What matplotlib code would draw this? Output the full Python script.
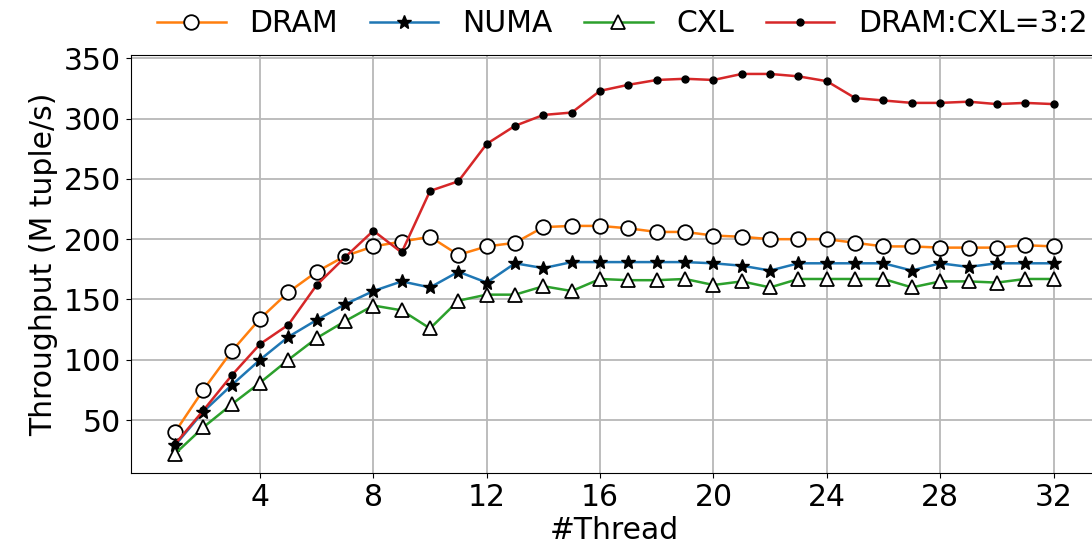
import matplotlib.pyplot as plt

threads = list(range(1, 33))

dram = [40, 75, 107, 134, 156, 173, 186, 194, 198, 202, 187, 194, 197, 210, 211, 211,
        209, 206, 206, 203, 202, 200, 200, 200, 197, 194, 194, 193, 193, 193, 195, 194]
numa = [29, 57, 79, 100, 119, 133, 146, 157, 165, 160, 173, 164, 180, 176, 181, 181,
        181, 181, 181, 180, 178, 174, 180, 180, 180, 180, 174, 180, 177, 180, 180, 180]
cxl = [22, 44, 63, 81, 100, 118, 132, 145, 141, 126, 149, 154, 154, 161, 157, 167,
       166, 166, 167, 162, 165, 160, 167, 167, 167, 167, 160, 165, 165, 164, 167, 167]
mixed = [30, 58, 87, 113, 129, 162, 185, 207, 189, 240, 248, 279, 294, 303, 305, 323,
         328, 332, 333, 332, 337, 337, 335, 331, 317, 315, 313, 313, 314, 312, 313, 312]

plt.rcParams['font.size'] = 21.5

fig = plt.figure(figsize=(10.92, 5.55), dpi=100)
# the original figure was cropped on the right, so the axes run past the edge
ax = fig.add_axes([0.120, 0.148, 0.885, 0.753])

ax.plot(threads, dram, color='tab:orange', lw=1.8, marker='o', ms=10.5,
        mfc='white', mec='black', mew=1.3, label='DRAM')
ax.plot(threads, numa, color='tab:blue', lw=1.8, marker='*', ms=10,
        mfc='black', mec='black', label='NUMA')
ax.plot(threads, cxl, color='tab:green', lw=1.8, marker='^', ms=10,
        mfc='white', mec='black', mew=1.3, label='CXL')
ax.plot(threads, mixed, color='tab:red', lw=1.8, marker='o', ms=5,
        mfc='black', mec='black', label='DRAM:CXL=3:2')

ax.set_xticks([4, 8, 12, 16, 20, 24, 28, 32])
ax.set_yticks([50, 100, 150, 200, 250, 300, 350])
ax.set_xlabel('#Thread', labelpad=3)
ax.set_ylabel('Throughput (M tuple/s)')
ax.grid(True, color='#b8b8b8', lw=1.3)

fig.legend(loc='center', bbox_to_anchor=(0.570, 0.957), ncol=4,
           frameon=False, handlelength=2.3, handletextpad=0.8,
           columnspacing=1.05, borderaxespad=0, borderpad=0)

fig.savefig('out.png')
